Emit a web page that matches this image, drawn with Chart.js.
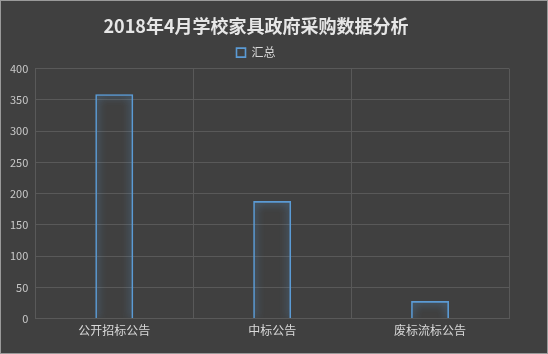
<!DOCTYPE html>
<html>
<head>
<meta charset="utf-8">
<script src="https://cdn.jsdelivr.net/npm/chart.js@4/dist/chart.umd.min.js"></script>
<style>
  html, body { margin: 0; padding: 0; background: #404040; }
  #wrap { width: 548px; height: 354px; box-sizing: border-box; border: 1px solid #9a9a9a; background: #404040; }
</style>
</head>
<body>
<div id="wrap"><canvas id="chart" width="546" height="352"></canvas></div>
<script>
const categories = ["公开招标公告", "中标公告", "废标流标公告"];
const totals = [359, 188, 28];
const seriesName = "汇总";
const yTicks = [0, 50, 100, 150, 200, 250, 300, 350, 400];

const glow = {
  id: "glow",
  beforeDatasetsDraw(chart) {
    const ctx = chart.ctx;
    ctx.save();
    ctx.shadowColor = "rgba(91, 155, 213, 1)";
    ctx.shadowBlur = 8;
  },
  afterDatasetsDraw(chart) {
    chart.ctx.restore();
  },
};

const font = '"Noto Sans CJK SC", "Noto Sans", sans-serif';

new Chart(document.getElementById("chart"), {
  type: "bar",
  data: {
    labels: categories,
    datasets: [
      {
        label: seriesName,
        data: totals,
        backgroundColor: "rgba(0,0,0,0)",
        borderColor: "#5b9bd5",
        borderWidth: 1.6,
        barPercentage: 0.24,
        categoryPercentage: 1,
      },
    ],
  },
  options: {
    responsive: false,
    animation: false,
    layout: { padding: { left: 2, right: 38, top: 8, bottom: 10 } },
    plugins: {
      title: {
        display: true,
        text: "2018年4月学校家具政府采购数据分析",
        color: "#e6e6e6",
        font: { family: font, size: 18, weight: "bold" },
        padding: { top: 6, bottom: 9 },
      },
      legend: {
        labels: {
          color: "#d9d9d9",
          font: { family: font, size: 12 },
          boxWidth: 9,
          boxHeight: 9,
          padding: 1,
        },
      },
      tooltip: { enabled: false },
    },
    scales: {
      x: {
        grid: { color: "#595959", drawTicks: false },
        border: { color: "#595959" },
        ticks: { color: "#d9d9d9", font: { family: font, size: 12 }, padding: 5 },
      },
      y: {
        min: 0,
        max: 400,
        afterBuildTicks(axis) {
          axis.ticks = yTicks.map((v) => ({ value: v }));
        },
        grid: { color: "#595959", drawTicks: false },
        border: { color: "#595959" },
        ticks: { color: "#c8c8c8", font: { family: font, size: 11 }, padding: 7 },
      },
    },
  },
  plugins: [glow],
});
</script>
</body>
</html>
